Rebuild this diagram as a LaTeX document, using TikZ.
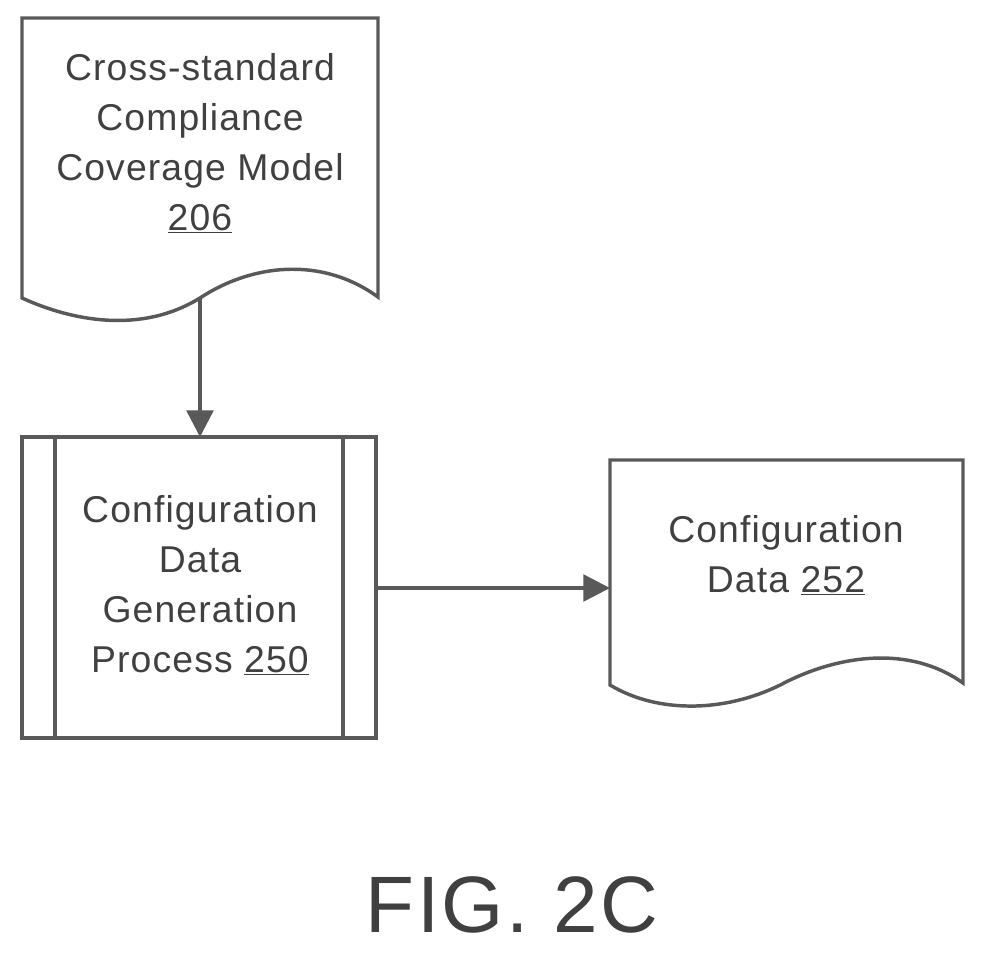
\documentclass[tikz,border=0pt]{standalone}
\usepackage{fontspec}
\setmainfont{Liberation Sans}[LetterSpace=3]
\usetikzlibrary{arrows.meta}
\begin{document}
\begin{tikzpicture}[x=0.75pt,y=-0.75pt,
  shp/.style={draw=black!65,line width=2.6pt},
  lbl/.style={align=center,font=\fontsize{28}{37.5}\selectfont,text=black!75},
  arr/.style={draw=black!65,line width=2.6pt,-{Triangle[length=20pt,width=20pt]}}]
\useasboundingbox (0,0) rectangle (985,958);
% document 1
\draw[shp] (22,298) -- (22,18) -- (378,18) -- (378,297)
  .. controls (320,255) and (250,265) .. (200,298)
  .. controls (140,335) and (70,320) .. (22,298) -- cycle;
\node[lbl] (d1) at (200,143) {Cross-standard\\Compliance\\Coverage Model\\\underline{206}};
\coordinate (d1b) at (200,298);
% process
\draw[shp] (22,437) rectangle (376,738);
\draw[shp] (55,437) -- (55,738) (343,437) -- (343,738);
\node[lbl] (p) at (200,585) {Configuration\\Data\\Generation\\Process \underline{250}};
\coordinate (pt) at (200,437);
\coordinate (pr) at (376,588);
% document 2
\draw[shp] (610,685) -- (610,460) -- (963,460) -- (963,683)
  .. controls (910,645) and (840,655) .. (786,682)
  .. controls (730,712) and (660,715) .. (610,685) -- cycle;
\node[lbl] (d2) at (786,555) {Configuration\\Data \underline{252}};
\coordinate (d2l) at (610,588);
\draw[arr] (d1b) -- (pt);
\draw[arr] (pr) -- (d2l);
\node[font=\fontsize{60}{70}\selectfont,text=black!75] (fig) at (512,905) {FIG. 2C};
\end{tikzpicture}
\end{document}
